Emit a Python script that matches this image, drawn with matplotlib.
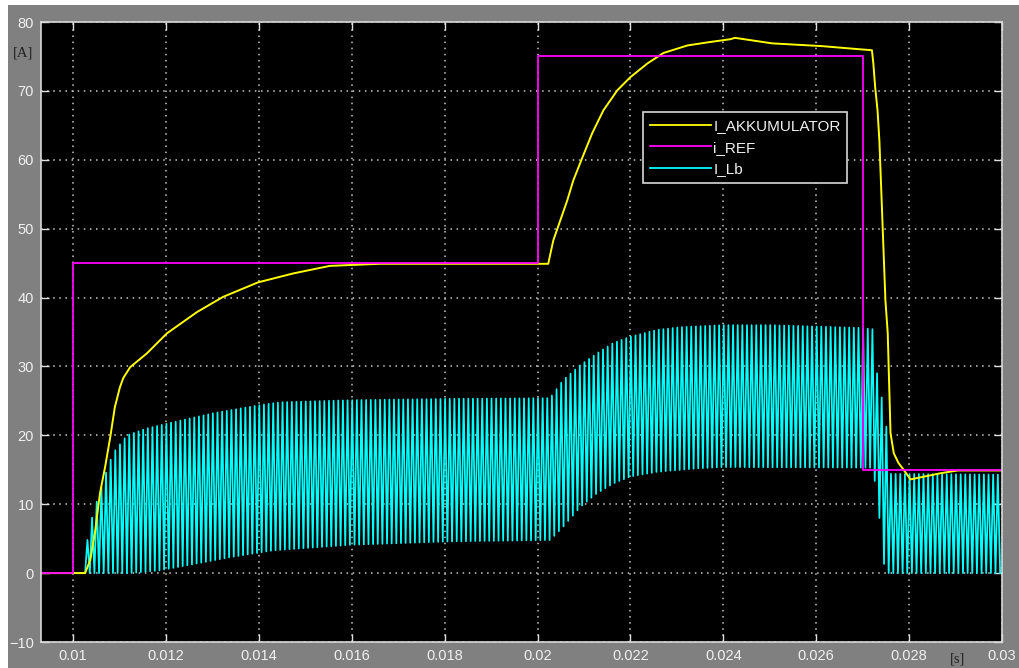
import numpy as np
import matplotlib.pyplot as plt
from matplotlib.lines import Line2D
from matplotlib.patches import Rectangle

# i_REF : reference current steps
ref_t = [0.00931, 0.01, 0.02, 0.027, 0.03]
ref_i = [0, 45, 75, 15, 15]

# I_AKKUMULATOR : battery current
akku_t = [0.00931, 0.01026, 0.01037, 0.01047, 0.01058, 0.01069, 0.01080, 0.01090,
          0.01101, 0.01108, 0.01123, 0.01159, 0.01202, 0.01267, 0.01323, 0.01398,
          0.01474, 0.01553, 0.01661, 0.02023, 0.02034, 0.02049, 0.02064, 0.02077,
          0.02097, 0.02118, 0.02142, 0.02172, 0.02200, 0.02237, 0.02271, 0.02323,
          0.02372, 0.02415, 0.02425, 0.02505, 0.02612, 0.02683, 0.02720, 0.02723,
          0.02727, 0.02732, 0.02736, 0.02749, 0.02754, 0.02756, 0.02760, 0.02767,
          0.02777, 0.02786, 0.02803, 0.02868, 0.02905, 0.03]
akku_i = [0, 0, 1.9, 5.8, 11.6, 15.4, 19.7, 24.1,
          27.0, 28.3, 29.9, 31.9, 34.8, 37.9, 40.1, 42.2,
          43.5, 44.6, 44.9, 44.9, 48.3, 51.2, 54.1, 57.0,
          60.4, 63.9, 67.2, 70.1, 72.0, 74.0, 75.5, 76.6,
          77.1, 77.5, 77.7, 76.9, 76.5, 76.1, 75.9, 74.0,
          70.5, 67.2, 62.8, 39.6, 34.8, 29.9, 20.3, 17.4,
          16.0, 15.2, 13.6, 14.5, 14.9, 14.9]

# I_Lb : inductor current, ripple peaks (upper) and valleys (lower)
lb_hi_t = [0.01026, 0.01030, 0.01043, 0.01054, 0.01069, 0.01086, 0.01116, 0.01159,
           0.01215, 0.01301, 0.01403, 0.01446, 0.01596, 0.01812, 0.02027, 0.02055,
           0.02092, 0.02128, 0.02163, 0.02199, 0.02257, 0.02307, 0.02400, 0.02500,
           0.02695, 0.02722, 0.02733, 0.02744, 0.02755, 0.02760, 0.03]
lb_hi = [0, 4.5, 8.7, 11.0, 14.2, 17.4, 20.0, 21.0,
         21.9, 23.2, 24.4, 24.8, 25.1, 25.3, 25.4, 28.0,
         30.2, 31.9, 33.4, 34.3, 35.3, 35.7, 36.0, 36.0,
         35.6, 35.4, 27.6, 24.7, 19.3, 14.4, 14.3]
lb_lo_t = [0.01026, 0.01123, 0.01187, 0.01267, 0.01338, 0.01431, 0.01596, 0.01812,
           0.02027, 0.02055, 0.02092, 0.02128, 0.02163, 0.02199, 0.02257, 0.02344,
           0.02400, 0.02722, 0.02733, 0.02748, 0.03]
lb_lo = [0, 0, 0.4, 1.4, 2.3, 3.3, 4.1, 4.6,
         4.8, 6.7, 9.6, 11.6, 13.0, 14.0, 14.7, 15.2,
         15.4, 15.3, 10.0, 0, 0]
t_sw = 1e-4      # switching period
lb_start = 0.01026

# ripple: alternate valley / peak every half period
k = np.arange(int((0.03 - lb_start) / (t_sw / 2)) + 1)
tk = lb_start + k * t_sw / 2
lb_t = np.concatenate([[0.00931], tk])
lb_i = np.concatenate([[0], np.where(k % 2 == 0,
                                     np.interp(tk, lb_lo_t, lb_lo),
                                     np.interp(tk, lb_hi_t, lb_hi))])

fig = plt.figure(figsize=(10.19, 6.68), dpi=100, facecolor='white')
fig.patches.append(Rectangle((8 / 1019, 0), 1, 663 / 668, transform=fig.transFigure,
                             facecolor='#808080', edgecolor='none', zorder=-10))
ax = fig.add_axes([41 / 1019, 26 / 668, 961 / 1019, 620 / 668])
ax.set_facecolor('black')

ax.plot(lb_t, lb_i, color='#00ffff', lw=1.25)
ax.plot(akku_t, akku_i, color='#ffff00', lw=1.4)
ax.plot(ref_t, ref_i, color='#ff00ff', lw=1.3, drawstyle='steps-post')

ax.set_xlim(0.00931, 0.03)
ax.set_ylim(-10, 80)
xt = np.arange(0.01, 0.0301, 0.002)
ax.set_xticks(xt)
ax.set_xticklabels(['%g' % round(v, 3) for v in xt])
ax.set_yticks(range(-10, 81, 10))
ax.grid(True, color='#c8c8c8', lw=1.1, linestyle=(0, (1, 3)))
ax.tick_params(direction='in', length=6, width=1, color='#e0e0e0',
               top=True, right=True, labelcolor='#f0f0f0', labelsize=10.5, pad=5)
for lab in ax.get_xticklabels() + ax.get_yticklabels():
    lab.set_family('Liberation Sans')
for s in ax.spines.values():
    s.set_color('#d8d8d8')
    s.set_linewidth(1.2)

handles = [Line2D([], [], color='#ffff00', lw=1.3),
           Line2D([], [], color='#ff00ff', lw=1.3),
           Line2D([], [], color='#00ffff', lw=1.3)]
leg = ax.legend(handles, ['I_AKKUMULATOR', 'i_REF', 'I_Lb'], loc='upper left',
                bbox_to_anchor=(0.6264, 0.8548), borderaxespad=0, fancybox=False,
                facecolor='black', edgecolor='#d8d8d8', framealpha=1,
                prop={'family': 'Liberation Sans', 'size': 11},
                handlelength=4.0, handletextpad=0.15, labelspacing=0.5, borderpad=0.45)
leg.get_frame().set_linewidth(1.2)
for txt in leg.get_texts():
    txt.set_color('#f0f0f0')

fig.text(23 / 1019, 1 - 53 / 668, '[A]', family='Liberation Serif', fontsize=10.5,
         color='#202020', ha='center', va='center')
fig.text(958 / 1019, 1 - 659 / 668, '[s]', family='Liberation Serif', fontsize=10.5,
         color='#202020', ha='center', va='center')

fig.savefig('out.png', dpi=100, facecolor=fig.get_facecolor())
